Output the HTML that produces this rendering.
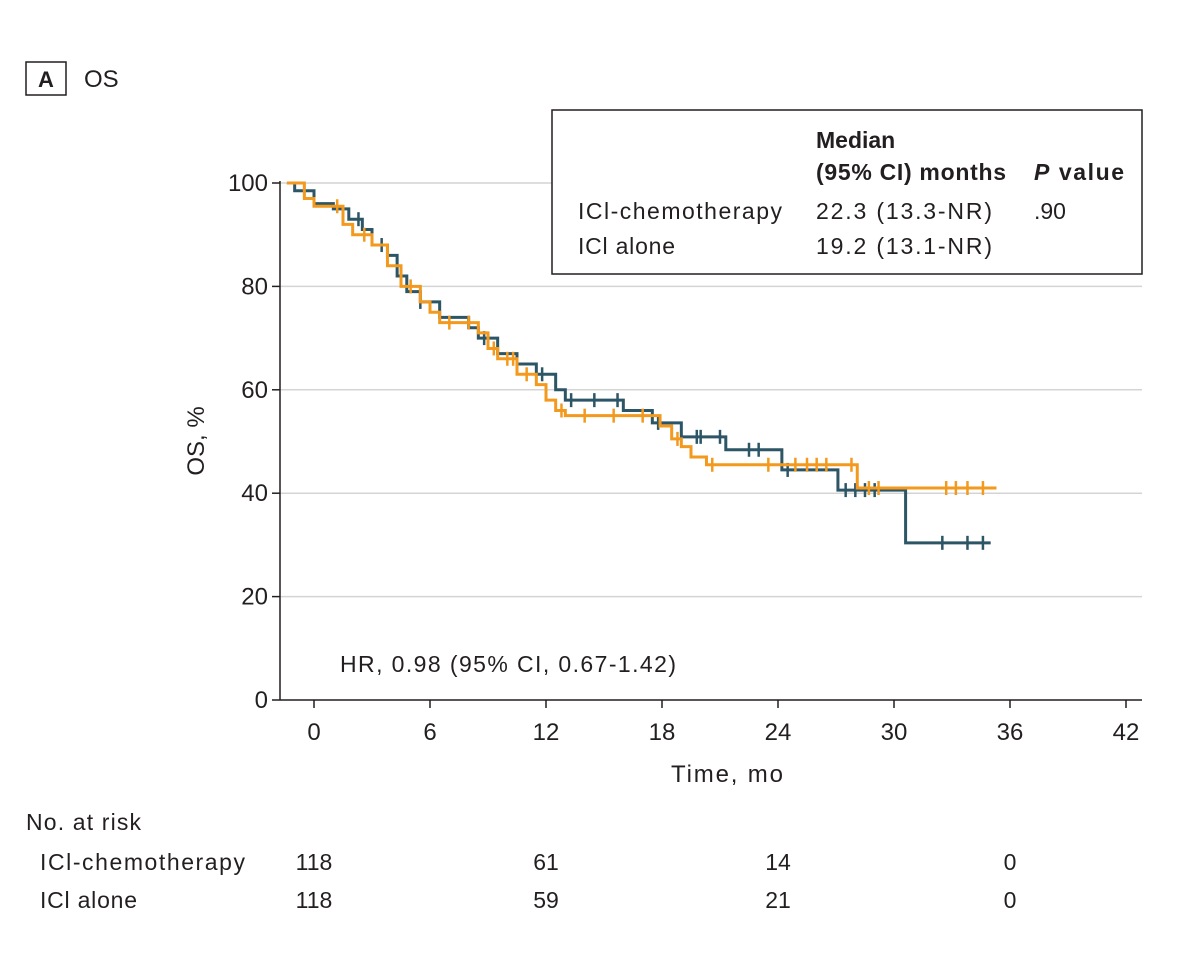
<!DOCTYPE html>
<html><head><meta charset="utf-8"><style>
body{margin:0;background:#fff;font-family:"Liberation Sans",sans-serif;color:#231f20}
svg text{font-family:"Liberation Sans",sans-serif;fill:#231f20}
</style></head><body>
<svg id="chart" width="1200" height="961" viewBox="0 0 1200 961" xmlns="http://www.w3.org/2000/svg">
<rect x="26" y="62" width="40" height="33" fill="none" stroke="#231f20" stroke-width="1.5"/>
<text x="46" y="87" font-size="22" font-weight="bold" text-anchor="middle">A</text>
<text x="84" y="87" font-size="24">OS</text>
<g id="grid"></g>
<g id="axes"></g>
<g id="series"></g>
<g>
<rect x="552" y="110" width="590" height="164" fill="#fff" stroke="#231f20" stroke-width="1.5"/>
<text x="816" y="148" font-size="23" font-weight="bold">Median</text>
<text x="816" y="180" font-size="23" font-weight="bold" textLength="190">(95% CI) months</text>
<text x="1034" y="180" font-size="23" font-weight="bold" textLength="90"><tspan font-style="italic">P</tspan> value</text>
<text x="578" y="219" font-size="23" textLength="204">ICl-chemotherapy</text>
<text x="816" y="219" font-size="23" textLength="176">22.3 (13.3-NR)</text>
<text x="1034" y="219" font-size="23">.90</text>
<text x="578" y="254" font-size="23" textLength="97">ICl alone</text>
<text x="816" y="254" font-size="23" textLength="176">19.2 (13.1-NR)</text>
</g>
<text x="340" y="672" font-size="23" textLength="336">HR, 0.98 (95% CI, 0.67-1.42)</text>
<text x="0" y="0" font-size="24" text-anchor="middle" transform="translate(204,441) rotate(-90)">OS, %</text>
<text x="727" y="782" font-size="24" text-anchor="middle" textLength="112">Time, mo</text>
<text x="26" y="830" font-size="23" textLength="115">No. at risk</text>
<text x="40" y="870" font-size="23" textLength="205">ICl-chemotherapy</text>
<text x="40" y="908" font-size="23" textLength="97">ICl alone</text>
<g id="risk"></g>
</svg>
<script>
const xTicks=[0,6,12,18,24,30,36,42];
const yTicks=[0,20,40,60,80,100];
const chemoT=[-1.4,-1,0,1,1.8,2.5,3,3.8,4.3,4.8,5.5,6.5,8,8.5,9.5,10.5,11.5,12.5,13,16,17.5,19,21.3,24.2,27.1,30.6,35];
const chemoS=[100,98.5,96,95,93,91,88,86,82,79,77,74,72,70,67,65,63,60,58,56,53.6,50.9,48.4,44.5,40.6,30.4,30.4];
const aloneT=[-1.4,-0.5,0,1.5,2,3,3.8,4.5,5.5,6,6.5,8.5,9,9.5,10.5,11.5,12,12.5,13,17.9,18.5,19,19.5,20.3,28.1,35.3];
const aloneS=[100,97,95.5,92,90,88,84,80,77,75,73,71,68,66,63,61,58,56,55,53,50.5,49,47,45.5,41,41];
const chemoCens=[-0.5,2.3,3.5,5.5,8.8,11.8,13.3,14.5,15.7,17.8,19.8,20,21,22.5,23,24.5,27.5,28,28.5,29,32.5,33.8,34.6];
const aloneCens=[1.2,2.6,5,7,8,9.3,10,10.3,11,12.8,14,15.5,17,18.8,20.6,23.5,24.9,25.5,26,26.5,27.8,28.7,29.2,32.7,33.2,33.8,34.6];
const riskX=[0,12,24,36];
const riskChemo=["118","61","14","0"];
const riskAlone=["118","59","21","0"];
const NS="http://www.w3.org/2000/svg";
const x0=280,x1=1142,y0=700,y1=183;
const xs=t=>314+t*(1126-314)/42;
const ys=s=>y0-s*(y0-y1)/100;
function mk(tag,attrs,parent){const e=document.createElementNS(NS,tag);for(const k in attrs)e.setAttribute(k,attrs[k]);parent.appendChild(e);return e;}
const grid=document.getElementById('grid'),axes=document.getElementById('axes'),series=document.getElementById('series'),risk=document.getElementById('risk');
yTicks.forEach(v=>{
 if(v>0){const g=mk('line',{x1:x0,x2:x1,y1:ys(v),y2:ys(v),stroke:'#d4d4d4','stroke-width':1.5},grid);
 
 }
 const tk=mk('line',{x1:x0-8,x2:x0,y1:ys(v),y2:ys(v),stroke:'#231f20','stroke-width':1.5},axes);
 
 
 const t=mk('text',{x:x0-12,y:ys(v)+8,'font-size':24,'text-anchor':'end'},axes);t.textContent=v;
 
 
});
mk('line',{x1:x0,x2:x0,y1:y1-2,y2:y0,stroke:'#231f20','stroke-width':1.5},axes);
mk('line',{x1:x0,x2:x1,y1:y0,y2:y0,stroke:'#231f20','stroke-width':1.5},axes);
xTicks.forEach(v=>{
 const tk=mk('line',{x1:xs(v),x2:xs(v),y1:y0,y2:y0+8,stroke:'#231f20','stroke-width':1.5},axes);
 
 
 const t=mk('text',{x:xs(v),y:740,'font-size':24,'text-anchor':'middle'},axes);t.textContent=v;
 
 
});
function surv(T,S,t){let s=S[0];for(let i=0;i<T.length;i++){if(T[i]<=t)s=S[i];}return s;}
function drawCurve(T,S,C,color,name){
 let d='M'+xs(T[0])+','+ys(S[0]);
 for(let i=1;i<T.length;i++){d+=' H'+xs(T[i])+' V'+ys(S[i]);}
 const p=mk('path',{d:d,fill:'none',stroke:color,'stroke-width':3},series);
 
 
 C.forEach(t=>{const y=ys(surv(T,S,t));
  const c=mk('line',{x1:xs(t),x2:xs(t),y1:y-7,y2:y+7,stroke:color,'stroke-width':2.5},series);
  
  });
}
drawCurve(chemoT,chemoS,chemoCens,'#2c5566','chemo');
drawCurve(aloneT,aloneS,aloneCens,'#f39a1e','alone');
riskX.forEach((t,i)=>{
 const a=mk('text',{x:xs(t),y:870,'font-size':23,'text-anchor':'middle'},risk);a.textContent=riskChemo[i];
 
 
 const b=mk('text',{x:xs(t),y:908,'font-size':23,'text-anchor':'middle'},risk);b.textContent=riskAlone[i];
 
 
});
</script>
</body></html>
